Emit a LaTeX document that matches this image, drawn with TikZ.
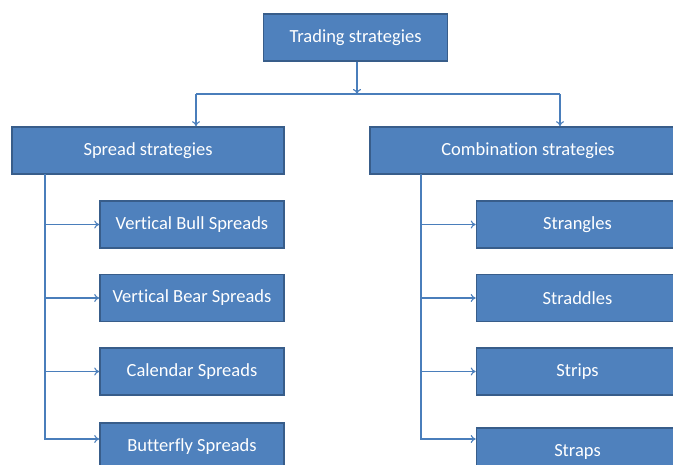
\documentclass[tikz,border=0pt]{standalone}
\usepackage{fontspec}
\setmainfont[Ligatures={NoCommon}]{Carlito}
\usetikzlibrary{arrows.meta}
\definecolor{boxfill}{HTML}{4F81BD}
\definecolor{boxline}{HTML}{385D8A}
\definecolor{linkcol}{HTML}{4A7EBB}
\tikzset{
  box/.style={draw=boxline, line width=1.6pt, fill=boxfill, text=white, inner sep=0pt,
    font=\fontsize{18.5}{22}\selectfont},
  link/.style={draw=linkcol, line width=1.1pt},
  arr/.style={link, -{To[length=5pt,width=8pt]}}
}
\begin{document}
\begin{tikzpicture}[x=1pt,y=-1pt]
\clip (0,0) rectangle (673,465);
\fill[white] (0,0) rectangle (673,465);
% top
\node[box, minimum width=184pt, minimum height=47pt] (top) at (355.5,37.5) {Trading strategies};
% second level
\node[box, minimum width=272pt, minimum height=47pt] (spread) at (148,150.5) {Spread strategies};
\node[box, minimum width=316pt, minimum height=47pt] (comb) at (528,150.5) {Combination strategies};
% left children
\node[box, minimum width=184pt, minimum height=47pt] (s1) at (192,224.5) {Vertical Bull Spreads};
\node[box, minimum width=184pt, minimum height=47pt] (s2) at (192,298) {Vertical Bear Spreads};
\node[box, minimum width=184pt, minimum height=47pt] (s3) at (192,371.5) {Calendar Spreads};
\node[box, minimum width=184pt, minimum height=47pt] (s4) at (192,446.5) {Butterfly Spreads};
% right children
\node[box, minimum width=202pt, minimum height=47pt] (c1) at (577.5,224.5) {Strangles};
\node[box, minimum width=202pt, minimum height=47pt] (c2) at (577.5,298) {Straddles};
\node[box, minimum width=202pt, minimum height=47pt] (c3) at (577.5,371.5) {Strips};
\node[box, minimum width=202pt, minimum height=47pt] (c4) at (577.5,451.5) {Straps};
% connectors top
\coordinate (mid) at (357,94);
\coordinate (hubL) at (196,94);
\coordinate (hubR) at (560,94);
\draw[arr] (top.south -| mid) -- (mid);
\draw[link] (hubL) -- (hubR);
\draw[arr] (hubL) -- (hubL |- spread.north);
\draw[arr] (hubR) -- (hubR |- comb.north);
% left trunk
\coordinate (trunkL) at (45,174);
\draw[arr] (trunkL) |- (s1.west);
\draw[arr] (trunkL) |- (s2.west);
\draw[arr] (trunkL) |- (s3.west);
\draw[arr] (trunkL) |- ([yshift=7.5pt]s4.west);
% right trunk
\coordinate (trunkR) at (421,174);
\draw[arr] (trunkR) |- (c1.west);
\draw[arr] (trunkR) |- (c2.west);
\draw[arr] (trunkR) |- (c3.west);
\draw[arr] (trunkR) |- ([yshift=12.5pt]c4.west);
\end{tikzpicture}
\end{document}
